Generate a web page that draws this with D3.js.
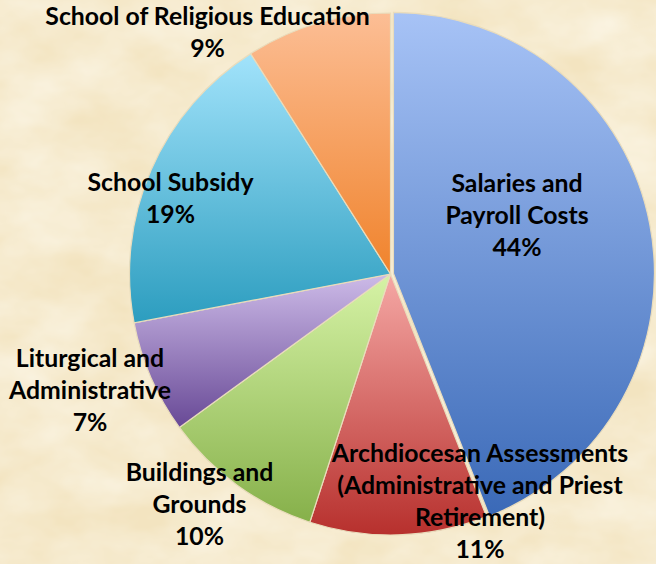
<!DOCTYPE html>
<html>
<head>
<meta charset="utf-8">
<script src="https://cdn.jsdelivr.net/npm/d3@7"></script>
<style>
  body { margin: 0; background: #f4e7c6; }
  svg { display: block; }
  .label { font-family: Lato, "Open Sans", sans-serif; font-weight: bold; font-size: 24.8px; fill: #000; }
</style>
</head>
<body>
<script>
// pie data, clockwise from 12 o'clock
var categories = ["Salaries and Payroll Costs",
                  "Archdiocesan Assessments (Administrative and Priest Retirement)",
                  "Buildings and Grounds",
                  "Liturgical and Administrative",
                  "School Subsidy",
                  "School of Religious Education"];
var percents = [44, 11, 10, 7, 19, 9];
var labelLines = [["Salaries and", "Payroll Costs"],
                  ["Archdiocesan Assessments", "(Administrative and Priest", "Retirement)"],
                  ["Buildings and", "Grounds"],
                  ["Liturgical and", "Administrative"],
                  ["School Subsidy"],
                  ["School of Religious Education"]];

// styling / layout
var topColors    = ["#a7c3f6", "#f5a8a5", "#d6f3a6", "#cdbbe8", "#a2e3fb", "#fcbe95"];
var bottomColors = ["#3a69b7", "#b7302d", "#86b04a", "#684996", "#2c9dbf", "#f0832c"];
var labelPos = [[517, 191.5], [480, 461.5], [199.5, 480.5], [90, 366.5], [170.5, 190.5], [207.5, 25]];

var width = 656, height = 564,
    cx = 390.5, cy = 274, radius = 261,
    lineHeight = 32;

var svg = d3.select("body").append("svg")
    .attr("width", width)
    .attr("height", height);

var defs = svg.append("defs");

// parchment texture
var tex = defs.append("filter")
    .attr("id", "paper")
    .attr("x", 0).attr("y", 0).attr("width", "100%").attr("height", "100%");
tex.append("feTurbulence")
    .attr("type", "fractalNoise")
    .attr("baseFrequency", "0.012 0.02")
    .attr("numOctaves", 4)
    .attr("seed", 7);
tex.append("feColorMatrix")
    .attr("type", "matrix")
    .attr("values", "0 0 0 0 1  0 0 0 0 0.99  0 0 0 0 0.94  0.9 0 0 0 -0.2");

svg.append("rect")
    .attr("width", width).attr("height", height)
    .attr("fill", "#f3e4c0");
svg.append("rect")
    .attr("width", width).attr("height", height)
    .attr("filter", "url(#paper)");

// one vertical gradient per slice, spanning the slice's own box
percents.forEach(function(d, i) {
  var g = defs.append("linearGradient")
      .attr("id", "grad" + i)
      .attr("x1", 0).attr("y1", 0).attr("x2", 0).attr("y2", 1);
  g.append("stop").attr("offset", "0%").attr("stop-color", topColors[i]);
  g.append("stop").attr("offset", "100%").attr("stop-color", bottomColors[i]);
});

var pie = d3.pie().sort(null).value(function(d) { return d; });
var arc = d3.arc().innerRadius(0).outerRadius(radius);

var arcs = pie(percents);

var chart = svg.append("g")
    .attr("transform", "translate(" + cx + "," + cy + ")");

chart.selectAll(".slice")
    .data(arcs)
  .enter().append("path")
    .attr("class", "slice")
    .attr("d", arc)
    .attr("transform", function(d, i) {
      // first slice is pulled out a touch
      if (i !== 0) return null;
      var a = (d.startAngle + d.endAngle) / 2, k = 3;
      return "translate(" + (Math.sin(a) * k) + "," + (-Math.cos(a) * k) + ")";
    })
    .style("fill", function(d, i) { return "url(#grad" + i + ")"; })
    .style("stroke", "#e9dcbc")
    .style("stroke-width", 1.2);

// labels: name lines + percentage
var labels = svg.selectAll(".label")
    .data(arcs)
  .enter().append("text")
    .attr("class", "label")
    .attr("text-anchor", "middle");

labels.each(function(d, i) {
  var t = d3.select(this);
  var lines = labelLines[i].concat([d3.format(".0f")(d.data) + "%"]);
  lines.forEach(function(s, j) {
    t.append("tspan")
      .attr("x", labelPos[i][0])
      .attr("y", labelPos[i][1] + j * lineHeight)
      .text(s);
  });
});
</script>
</body>
</html>
